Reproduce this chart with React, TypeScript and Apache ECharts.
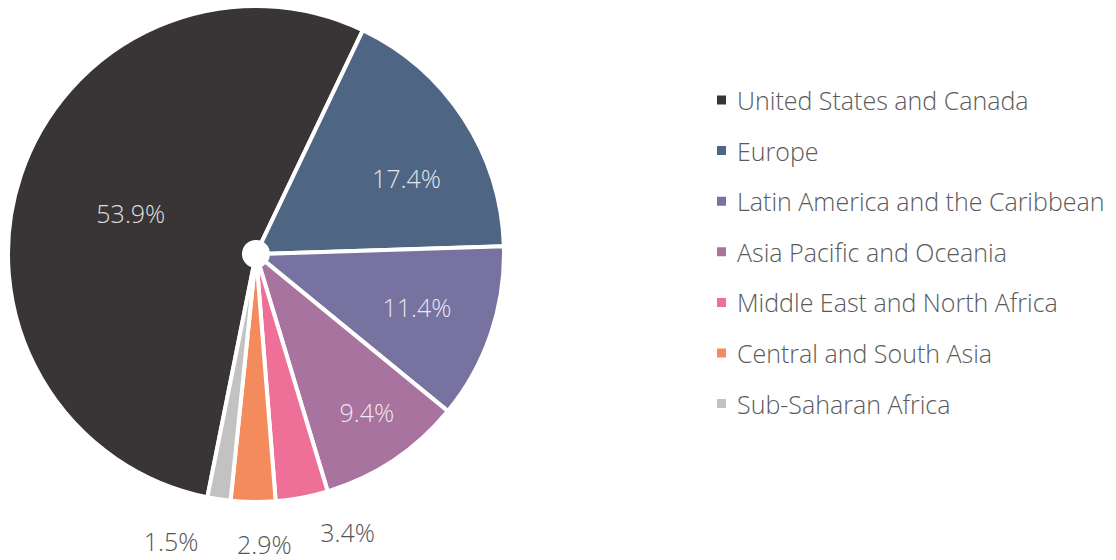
import React, { useEffect, useRef } from "react";
import * as echarts from "echarts";

const regions = [
  "United States and Canada",
  "Europe",
  "Latin America and the Caribbean",
  "Asia Pacific and Oceania",
  "Middle East and North Africa",
  "Central and South Asia",
  "Sub-Saharan Africa",
];
const shares = [53.9, 17.4, 11.4, 9.4, 3.4, 2.9, 1.5];
const colors = ["#393536", "#4f6584", "#7772a0", "#a8739e", "#ee6f97", "#f48b5c", "#c2c2c2"];

// label nudges relative to default inside position (dx, dy)
const labelNudgeX = [1, 39, 35, 37, 67, 10, -65];
const labelNudgeY = [1, -3, 10, 47, 147, 157, 155];
const outsideLabel = [false, false, false, false, true, true, true];

export default function App() {
  const ref = useRef<HTMLDivElement>(null);
  useEffect(() => {
    if (!ref.current) return;
    const chart = echarts.init(ref.current, undefined, { renderer: "svg" });
    const font = "'Open Sans', sans-serif";
    chart.setOption({
      animation: false,
      color: colors,
      legend: {
        orient: "vertical",
        left: 710,
        top: 82.5,
        icon: "rect",
        itemWidth: 11,
        itemHeight: 11,
        itemGap: 25.6,
        textStyle: {
          fontFamily: font,
          fontSize: 25,
          fontWeight: 300,
          color: "#5a5a5a",
          lineHeight: 25,
          padding: [0, 0, 0, 5],
        },
        data: regions,
      },
      series: [
        {
          type: "pie",
          center: [256, 254],
          radius: [12, 248],
          startAngle: 258.7,
          clockwise: true,
          avoidLabelOverlap: false,
          itemStyle: { borderColor: "#ffffff", borderWidth: 4 },
          label: {
            show: true,
            position: "inside",
            formatter: (p: any) => shares[p.dataIndex].toFixed(1) + "%",
            fontFamily: font,
            fontSize: 25,
            fontWeight: 300,
            color: "rgba(255,255,255,0.85)",
          },
          labelLine: { show: false },
          labelLayout: (p: any) => ({
            dx: labelNudgeX[p.dataIndex],
            dy: labelNudgeY[p.dataIndex],
            hideOverlap: false,
          }),
          emphasis: { disabled: true },
          data: regions.map((name, i) => ({
            name,
            value: shares[i],
            label: outsideLabel[i] ? { color: "#555555" } : undefined,
          })),
        },
      ],
    });
    return () => chart.dispose();
  }, []);
  return (
    <div
      ref={ref}
      style={{ position: "absolute", left: 0, top: 0, width: 1116, height: 560, background: "#fff" }}
    />
  );
}
